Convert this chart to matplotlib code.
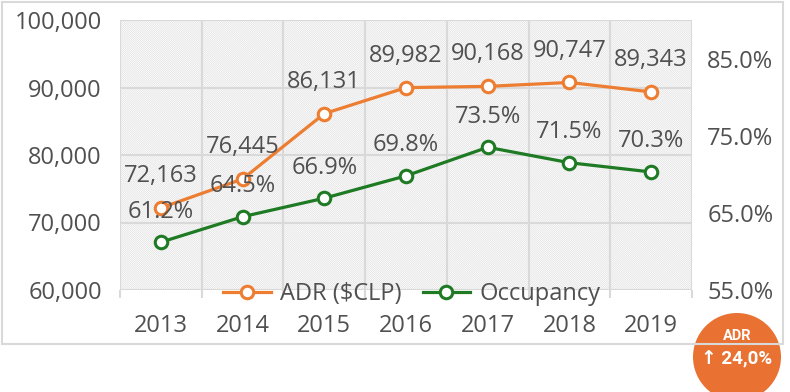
import matplotlib
matplotlib.use("Agg")
import matplotlib.pyplot as plt
from matplotlib.patches import Rectangle, Circle
from matplotlib.lines import Line2D
import numpy as np

years = ["2013", "2014", "2015", "2016", "2017", "2018", "2019"]
adr = [72163, 76445, 86131, 89982, 90168, 90747, 89343]
occupancy = [61.2, 64.5, 66.9, 69.8, 73.5, 71.5, 70.3]
left_ticks = [60000, 70000, 80000, 90000, 100000]
right_ticks = [55, 65, 75, 85]

ORANGE = "#ED7D31"
GREEN = "#1F7A24"
TXT = "#505050"
GRID = "#d9d9d9"
FS = 17

plt.rcParams["font.family"] = ["Open Sans", "DejaVu Sans"]
plt.rcParams["hatch.linewidth"] = 0.5
plt.rcParams["hatch.color"] = "#e0e0e0"

W, H = 790, 392
fig = plt.figure(figsize=(W / 100, H / 100), dpi=100)

# outer border
fig.patches.append(Rectangle((2 / W, 1 - 344 / H), 781 / W, 342 / H, transform=fig.transFigure,
                             fill=False, edgecolor=GRID, linewidth=1.5, zorder=0))

ax = fig.add_axes([120 / W, 1 - 290 / H, 572 / W, 270 / H])
ax.set_facecolor("white")
ax.add_patch(Rectangle((0, 0), 1, 1, transform=ax.transAxes, facecolor="white",
                       edgecolor="#e0e0e0", hatch="\\" * 16, linewidth=0, zorder=0))
x = np.arange(len(years))
ax.set_xlim(-0.5, len(years) - 0.5)
ax.set_ylim(60000, 100000)
for s in ax.spines.values():
    s.set_visible(False)
ax.set_yticks(left_ticks)
ax.set_yticklabels([f"{v:,}" for v in left_ticks])
ax.tick_params(axis="y", length=0, pad=13, labelsize=FS, labelcolor=TXT)
ax.set_xticks(x)
ax.set_xticklabels(years)
ax.tick_params(axis="x", length=0, pad=17, labelsize=FS, labelcolor=TXT)
ax.set_xticks(np.arange(-0.5, len(years)), minor=True)
ax.tick_params(axis="x", which="minor", length=6, color=GRID, width=1.5)
ax.grid(False)
for v in left_ticks:
    ax.axhline(v, color=GRID, lw=1.5, zorder=1)
for b in np.arange(-0.5, len(years)):
    ax.axvline(b, color=GRID, lw=1.5, zorder=1)

ax.plot(x, adr, color=ORANGE, lw=2.3, marker="o", ms=9, mfc="white", mec=ORANGE, mew=2.2, zorder=5)
for xi, v in zip(x, adr):
    ax.annotate(f"{v:,}", (xi, v), xytext=(0, 23), textcoords="offset points",
                ha="center", va="center", fontsize=FS, color=TXT, zorder=6)

ax2 = ax.twinx()
ax2.set_ylim(55, 90)
for s in ax2.spines.values():
    s.set_visible(False)
ax2.set_yticks(right_ticks)
ax2.set_yticklabels([f"{v:.1f}%" for v in right_ticks])
ax2.tick_params(axis="y", length=0, pad=11, labelsize=FS, labelcolor=TXT)
ax2.plot(x, occupancy, color=GREEN, lw=2.3, marker="o", ms=9, mfc="white", mec=GREEN, mew=2.2, zorder=5)
for xi, v in zip(x, occupancy):
    ax2.annotate(f"{v:.1f}%", (xi, v), xytext=(0, 22), textcoords="offset points",
                 ha="center", va="center", fontsize=FS, color=TXT, zorder=6)

handles = [Line2D([], [], color=ORANGE, lw=2.3, marker="o", ms=9, mfc="white", mec=ORANGE, mew=2.2),
           Line2D([], [], color=GREEN, lw=2.3, marker="o", ms=9, mfc="white", mec=GREEN, mew=2.2)]
leg = fig.legend(handles, ["ADR ($CLP)", "Occupancy"], loc="center",
                 bbox_to_anchor=(412 / W, 1 - 294 / H), ncol=2, frameon=False,
                 fontsize=FS, labelcolor=TXT, handlelength=2.0, handletextpad=0.4,
                 columnspacing=0.9, borderaxespad=0)

# badge
bax = fig.add_axes([(737 - 44) / W, 1 - (357 + 44) / H, 88 / W, 88 / H])
bax.set_xlim(-1, 1)
bax.set_ylim(-1, 1)
bax.axis("off")
bax.add_patch(Circle((0, 0), 1, facecolor="#E97132", edgecolor="none"))
bax.text(0, 0.47, "ADR", ha="center", va="center", color="white", fontsize=10.5,
         fontweight="bold", family=["Roboto", "DejaVu Sans"])
bax.text(0, -0.05, "↑ 24,0%", ha="center", va="center", color="white", fontsize=13.5,
         fontweight="bold", family=["Roboto", "DejaVu Sans"])

fig.savefig("out.png", dpi=100)
